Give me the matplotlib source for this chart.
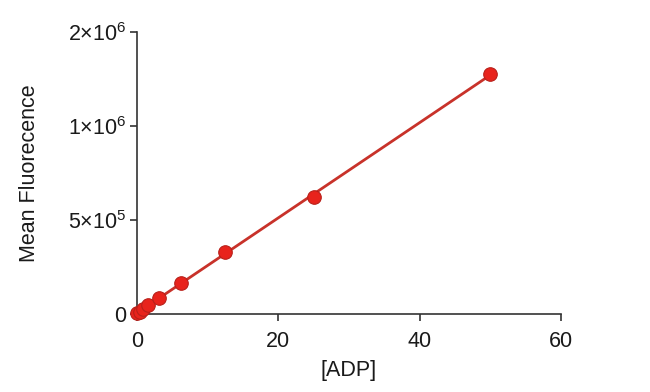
import numpy as np
import matplotlib
matplotlib.use("Agg")
import matplotlib.pyplot as plt

plt.rcParams['font.family'] = ['Liberation Sans', 'DejaVu Sans']
plt.rcParams['mathtext.fontset'] = 'custom'
plt.rcParams['mathtext.rm'] = 'Liberation Sans'

# Data
adp = [0, 0.39, 0.78, 1.5625, 3.125, 6.25, 12.5, 25, 50]
fluor = [3e3, 1.2e4, 2.6e4, 4.8e4, 8.5e4, 1.65e5, 3.30e5, 6.22e5, 1.277e6]
xticks = [0, 20, 40, 60]
yticks = [0, 5e5, 1e6, 1.5e6]
ytick_labels = ['0', r'$\mathregular{5{\times}10^{5}}$', r'$\mathregular{1{\times}10^{6}}$', r'$\mathregular{2{\times}10^{6}}$']

fig = plt.figure(figsize=(6.5, 3.92), dpi=100)
ax = fig.add_axes([0.2108, 0.199, 0.652, 0.719])

slope, intercept = np.polyfit(adp, fluor, 1)
xfit = np.array([0, max(adp)])
ax.plot(xfit, slope * xfit + intercept, color='#c8322a', lw=2.0, zorder=2)
ax.scatter(adp, fluor, s=95, color='#e8231c', edgecolor='#b8201a', linewidth=0.8, zorder=3, clip_on=False)

ax.set_xlim(0, 60)
ax.set_ylim(0, 1.5e6)
ax.set_xticks(xticks)
ax.set_yticks(yticks)
ax.set_yticklabels(ytick_labels)
for s in ['top', 'right']:
    ax.spines[s].set_visible(False)
for s in ['left', 'bottom']:
    ax.spines[s].set_color('#333333')
    ax.spines[s].set_linewidth(1.2)
ax.tick_params(direction='out', length=5, width=1.2, color='#333333', labelsize=15.5, labelcolor='#1a1a1a')
ax.tick_params(axis='x', pad=7)
ax.tick_params(axis='y', pad=3)
ax.set_xlabel('[ADP]', fontsize=15.5, color='#1a1a1a', labelpad=6)
ax.set_ylabel('Mean Fluorecence', fontsize=15.5, color='#1a1a1a')
ax.yaxis.set_label_coords(-0.228, 0.5)

fig.savefig('out.png', dpi=100)
